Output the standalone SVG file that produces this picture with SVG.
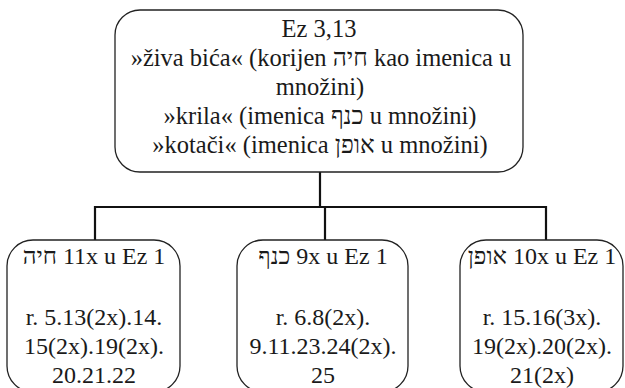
<svg xmlns="http://www.w3.org/2000/svg" width="625" height="388" viewBox="0 0 625 388">
<style>
.box{fill:#fff;stroke:#222;stroke-width:1.3}
.conn{stroke:#111;stroke-width:2.2;fill:none}
.t{font-family:'Liberation Serif','Times New Roman','DejaVu Serif',serif;font-size:24px;fill:#1a1a1a;text-anchor:middle}
.h{font-size:24.5px}
</style>
<rect width="625" height="388" fill="#fff"/>
<g id="connectors">
<path class="conn" d="M320 172V207M95 207H546M95 206V240M325 206V240M546 206V240"/>
</g>
<g id="top">
<rect class="box" x="115" y="10" width="408" height="162" rx="25" ry="25"/>
<text class="t h" x="319" y="37">Ez 3,13</text>
<text class="t h" x="321" y="66">»živa bića« (korijen חיה kao imenica u</text>
<text class="t h" x="320" y="95">množini)</text>
<text class="t h" x="320" y="124">»krila« (imenica כנף u množini)</text>
<text class="t h" x="320" y="153">»kotači« (imenica אופן u množini)</text>
</g>
<g id="left">
<rect class="box" x="7" y="240" width="173" height="152" rx="26" ry="26"/>
<text class="t" x="94" y="264">חיה&#x200E; 11x u Ez 1</text>
<text class="t" x="94" y="325">r. 5.13(2x).14.</text>
<text class="t" x="94" y="354">15(2x).19(2x).</text>
<text class="t" x="94" y="383">20.21.22</text>
</g>
<g id="middle">
<rect class="box" x="237" y="240" width="171" height="152" rx="26" ry="26"/>
<text class="t" x="323" y="264">כנף&#x200E; 9x u Ez 1</text>
<text class="t" x="323" y="325">r. 6.8(2x).</text>
<text class="t" x="323" y="354">9.11.23.24(2x).</text>
<text class="t" x="323" y="383">25</text>
</g>
<g id="right">
<rect class="box" x="460" y="240" width="163" height="152" rx="26" ry="26"/>
<text class="t" x="542" y="264">אופן&#x200E; 10x u Ez 1</text>
<text class="t" x="542" y="325">r. 15.16(3x).</text>
<text class="t" x="542" y="354">19(2x).20(2x).</text>
<text class="t" x="542" y="383">21(2x)</text>
</g>
</svg>
